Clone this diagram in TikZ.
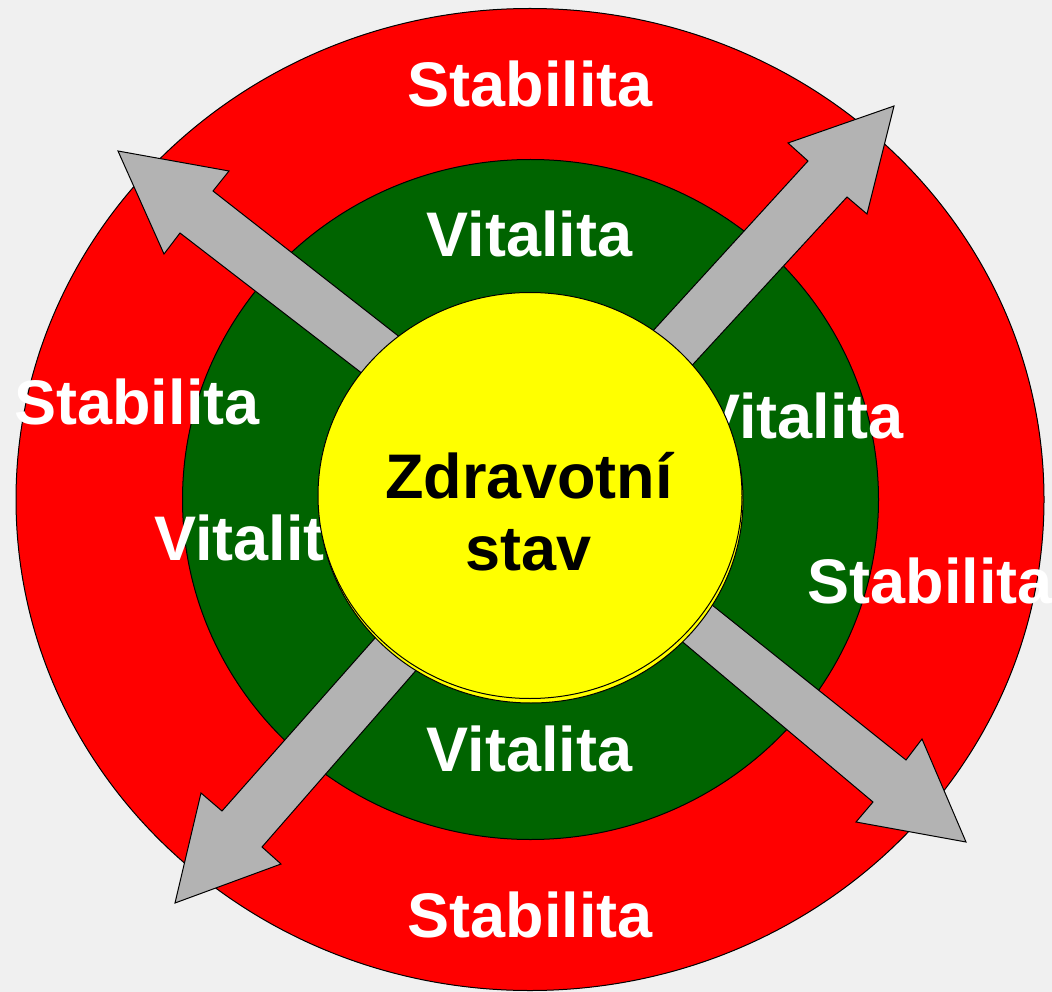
\documentclass[tikz,border=0pt]{standalone}
\usepackage{fontspec}
\setmainfont{Liberation Sans}
\usetikzlibrary{shapes.geometric}
\definecolor{bg}{HTML}{F0F0F0}
\definecolor{ringred}{HTML}{FF0000}
\definecolor{ringgreen}{HTML}{006400}
\definecolor{coreyellow}{HTML}{FFFF00}
\definecolor{arrowgray}{HTML}{B3B3B3}
\begin{document}
\begin{tikzpicture}[x=1pt,y=-1pt,
  ring/.style={ellipse,draw=black,line width=1pt,inner sep=0pt},
  lbl/.style={anchor=base,inner sep=0pt,text=white,font=\bfseries\fontsize{63}{72}\selectfont},
  bigarrow/.style={fill=arrowgray,draw=black,line width=1pt,line join=miter}]
\fill[bg] (0,0) rectangle (1052,992);
\useasboundingbox (0,0) rectangle (1052,992);
\node[ring,fill=ringred,minimum width=1028pt,minimum height=982pt] (red) at (530,499.5) {};
\node[ring,fill=ringgreen,minimum width=696pt,minimum height=680pt] (green) at (530.5,499.5) {};
% labels
\node[lbl] (s1) at (530,107) {Stabilita};
\node[lbl] (s2) at (530,937) {Stabilita};
\node[lbl] (s3) at (137,424) {Stabilita};
\node[lbl] (s4) at (930,603) {Stabilita};
\node[lbl] (v1) at (529.5,257) {Vitalita};
\node[lbl] (v2) at (529.5,771) {Vitalita};
\node[lbl] (v3) at (257,560) {Vitalita};
\node[lbl] (v4) at (801,438) {Vitalita};
% arrows
\draw[bigarrow] (118,151) -- (229,171) -- (213,191) -- (507,421) -- (468,455) -- (180,233) -- (164,254) -- cycle;
\draw[bigarrow] (894,106) -- (788,143) -- (808,161) -- (578,413) -- (616,448) -- (847,197) -- (867,214) -- cycle;
\draw[bigarrow] (175,903) -- (201,793) -- (222,811) -- (452,551) -- (494,581) -- (262,847) -- (281,864) -- cycle;
\draw[bigarrow] (966,842) -- (922,739) -- (906,760) -- (652,557) -- (622,591) -- (873,802) -- (856,822) -- cycle;
% core
\node[ring,fill=coreyellow,minimum width=424pt,minimum height=406pt] (shadow) at (531,500) {};
\node[ring,fill=coreyellow,minimum width=424pt,minimum height=406pt] (core) at (530,495.5) {};
\node[lbl,text=black] (z1) at (529,498) {Zdravotní};
\node[lbl,text=black] (z2) at (529,570) {stav};
\end{tikzpicture}
\end{document}
